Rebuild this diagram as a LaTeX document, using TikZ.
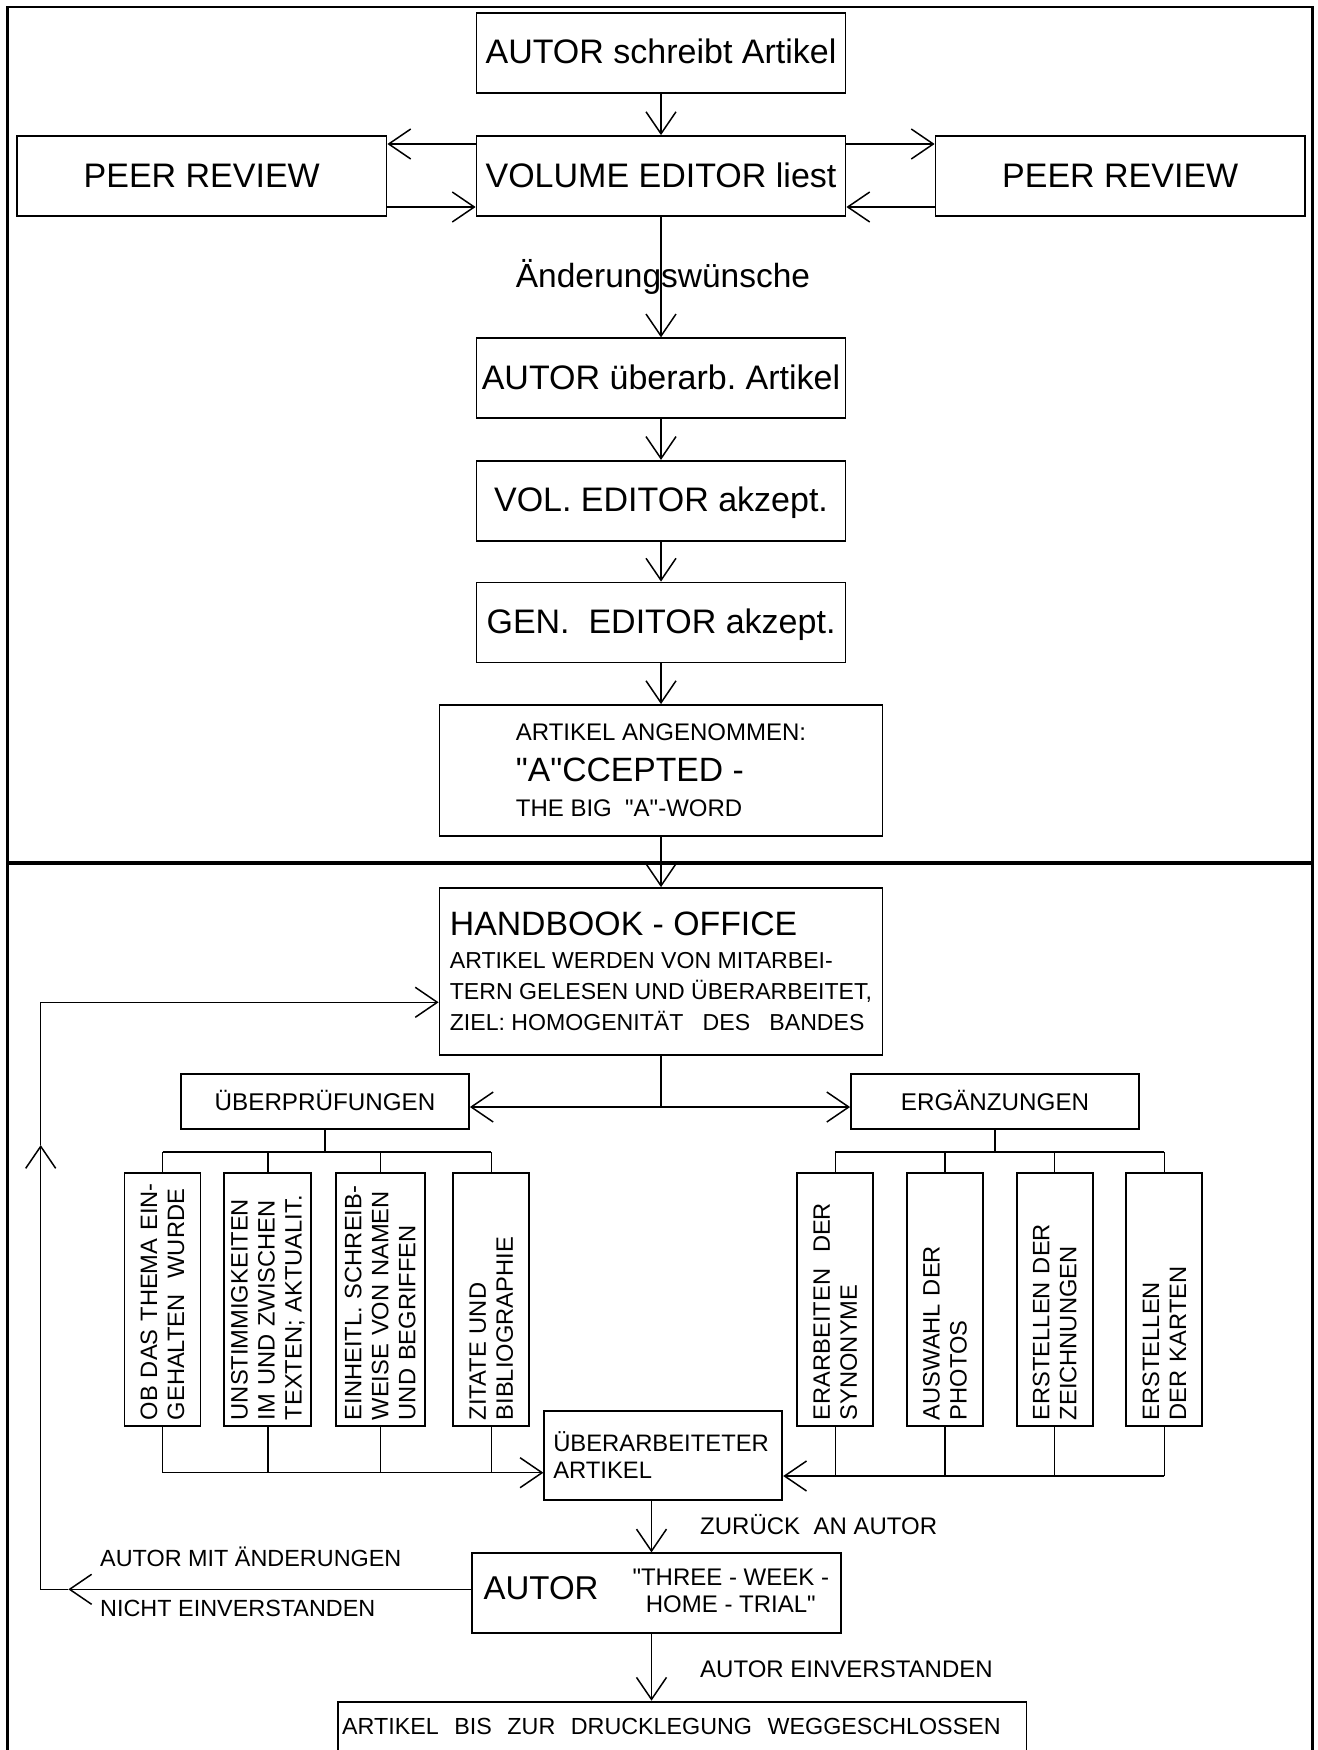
\documentclass[tikz,border=0pt]{standalone}
\usepackage{fontspec}
\setmainfont{Liberation Sans}[Ligatures=TeXOff]
\usetikzlibrary{arrows.meta}
\frenchspacing

\newcommand\bigtxt{\fontsize{34}{40}\selectfont}
\newcommand\midtxt{\fontsize{24}{27}\selectfont}

\tikzset{
  link/.style={line width=1.5pt},
  arr/.style={link,-{Straight Barb[length=22pt,width=30pt]}},
  arrboth/.style={link,{Straight Barb[length=22pt,width=30pt]}-{Straight Barb[length=22pt,width=30pt]}},
  box/.style={draw,line width=1.8pt,inner sep=0pt},
  bigbox/.style={box,minimum width=369pt,minimum height=80pt,text height=24pt,text depth=2pt,font=\bigtxt},
  headbox/.style={box,minimum width=288pt,minimum height=55pt,text height=17pt,text depth=0pt,font=\fontsize{24.2}{27}\selectfont},
  stripbox/.style={box,rotate=90,minimum width=253pt,minimum height=76pt,text width=242pt,inner xsep=5.5pt,inner ysep=0pt,align=left,font=\fontsize{23.7}{27}\selectfont},
  lbl/.style={inner sep=0pt,anchor=base west,font=\midtxt}
}

\begin{document}
\begin{tikzpicture}[x=1pt,y=-1pt]
\useasboundingbox (0,0) rectangle (1317,1750);
\clip (0,0) rectangle (1317,1750);

% frame and separator
\draw[line width=2.5pt] (7.5,1760) -- (7.5,7) -- (1312.5,7) -- (1312.5,1760);
\draw[line width=3.3pt] (7.5,863) -- (1312.5,863);

% upper part
\node[bigbox] (schreibt) at (661,53) {AUTOR schreibt Artikel};
\node[bigbox] (liest) at (661,176) {VOLUME EDITOR liest};
\node[bigbox,minimum width=369.5pt] (peerL) at (201.75,176) {PEER REVIEW};
\node[bigbox,minimum width=369.5pt] (peerR) at (1120.25,176) {PEER REVIEW};
\node[anchor=base,inner sep=0pt,font=\fontsize{33.5}{40}\selectfont] (wunsch) at (663,287) {Änderungswünsche};
\node[bigbox] (ueberarb) at (661,378.25) {AUTOR überarb. Artikel};
\node[bigbox] (volakz) at (661,500.8) {VOL. EDITOR akzept.};
\node[bigbox] (genakz) at (661,622.5) {GEN.\ \ EDITOR akzept.};
\node[box,minimum width=443pt,minimum height=130.7pt,align=left,font=\fontsize{24}{35.7}\selectfont] (accepted) at (661,770.35)
  {ARTIKEL ANGENOMMEN:\\[5.3pt]{\fontsize{33.7}{35.7}\selectfont "A"CCEPTED -}\\THE BIG\ \ "A"-WORD};

\draw[arr] (schreibt) -- (liest);
\draw[arr] (liest.west |- 0,144) -- (peerL.east |- 0,144);
\draw[arr] (peerL.east |- 0,207) -- (liest.west |- 0,207);
\draw[arr] (liest.east |- 0,144) -- (peerR.west |- 0,144);
\draw[arr] (peerR.west |- 0,207) -- (liest.east |- 0,207);
\draw[arr] (liest) -- (ueberarb);
\draw[arr] (ueberarb) -- (volakz);
\draw[arr] (volakz) -- (genakz);
\draw[arr] (genakz) -- (accepted);

% handbook office
\node[box,minimum width=443pt,minimum height=167pt,align=left,font=\fontsize{23.1}{31}\selectfont] (office) at (661,971.5)
  {{\fontsize{33.8}{31}\selectfont HANDBOOK - OFFICE}\\[1.7pt]ARTIKEL WERDEN VON MITARBEI-\\TERN GELESEN UND ÜBERARBEITET,\\ZIEL: HOMOGENITÄT\ \ \ DES\ \ \ BANDES};
\draw[arr] (accepted) -- (office);

\node[headbox] (pruef) at (325,1101.5) {ÜBERPRÜFUNGEN};
\node[headbox] (ergaenz) at (995,1101.5) {ERGÄNZUNGEN};
\draw[link] (office.south) -- (office.south |- 0,1107) coordinate (split);
\draw[arrboth] (pruef.east |- split) -- (ergaenz.west |- split);

% rotated boxes: east = top, west = bottom
\node[stripbox] (ob) at (162.5,1299.2) {OB DAS THEMA EIN-\\GEHALTEN\ \ WURDE};
\node[stripbox,minimum height=87pt] (unst) at (267.8,1299.2) {UNSTIMMIGKEITEN\\IM UND ZWISCHEN\\TEXTEN; AKTUALIT.};
\node[stripbox,minimum height=89.3pt] (einh) at (380.3,1299.2) {EINHEITL. SCHREIB-\\WEISE VON NAMEN\\UND BEGRIFFEN};
\node[stripbox] (zit) at (491.3,1299.2) {ZITATE UND\\BIBLIOGRAPHIE};
\node[stripbox] (syn) at (835.3,1299.2) {ERARBEITEN\ \ DER\\SYNONYME};
\node[stripbox] (photo) at (945,1299.2) {AUSWAHL DER\\PHOTOS};
\node[stripbox] (zeich) at (1054.7,1299.2) {ERSTELLEN DER\\ZEICHNUNGEN};
\node[stripbox] (karten) at (1164.3,1299.2) {ERSTELLEN\\DER KARTEN};

\draw[link] (pruef.south) -- ++(0,22) coordinate (pfork);
\draw[link] (ob.east |- pfork) -- (zit.east |- pfork);
\foreach \b in {ob,unst,einh,zit}
  \draw[link] (\b.east |- pfork) -- (\b.east);
\draw[link] (ergaenz.south) -- ++(0,22) coordinate (efork);
\draw[link] (syn.east |- efork) -- (karten.east |- efork);
\foreach \b in {syn,photo,zeich,karten}
  \draw[link] (\b.east |- efork) -- (\b.east);

% revised article
\node[box,minimum width=238pt,minimum height=89.3pt,align=left,text width=220pt,inner xsep=9pt,font=\fontsize{23.8}{27.3}\selectfont] (revised) at (663.3,1455.35)
  {ÜBERARBEITETER\\ARTIKEL};
\foreach \b in {ob,unst,einh,zit}
  \draw[link] (\b.west) -- (\b.west |- 0,1472.7);
\draw[arr] (ob.west |- 0,1472.7) -- (revised.west |- 0,1472.7);
\foreach \b in {syn,photo,zeich,karten}
  \draw[link] (\b.west) -- (\b.west |- 0,1476);
\draw[arr] (karten.west |- 0,1476) -- (revised.east |- 0,1476);

% author
\node[box,minimum width=369.3pt,minimum height=80pt,inner xsep=10pt] (autor) at (656.35,1593.3)
  {{\fontsize{33}{33}\selectfont AUTOR}\hspace{34pt}{\fontsize{24}{27.7}\selectfont\begin{tabular}{@{}c@{}}"THREE - WEEK -\\HOME - TRIAL"\end{tabular}}};
\node[lbl] (zurueck) at (700,1534.3) {ZURÜCK\ \ AN AUTOR};
\draw[arr] (revised.south -| 651.5,0) -- (autor.north -| 651.5,0);

\node[lbl,font=\fontsize{23.4}{27}\selectfont] (nichtA) at (100,1566.7) {AUTOR MIT ÄNDERUNGEN};
\node[lbl,font=\fontsize{23.4}{27}\selectfont] (nichtB) at (100,1616.7) {NICHT EINVERSTANDEN};
\coordinate (backtip) at (68.3,1589.3);
\coordinate (back) at (40.7,1589.3);
\coordinate (uptip) at (40.7,1145);
\draw[arr] (autor.west |- back) -- (backtip);
\draw[arr] (backtip) -- (back) -- (uptip);
\draw[arr] (uptip) |- (office.west |- 0,1002.3);

% locked away
\node[lbl] (einv) at (700,1677.7) {AUTOR EINVERSTANDEN};
\node[box,anchor=north west,minimum width=688.5pt,text width=680pt,inner xsep=4.25pt,inner ysep=0pt,text height=32.6pt,text depth=80pt,align=left,font=\fontsize{23.3}{27}\selectfont] (locked) at (337,1700.7)
  {ARTIKEL\ \ BIS\ \ ZUR\ \ DRUCKLEGUNG\ \ WEGGESCHLOSSEN};
\draw[arr] (autor.south -| 651.5,0) -- (locked.north -| 651.5,0);
\end{tikzpicture}
\end{document}
